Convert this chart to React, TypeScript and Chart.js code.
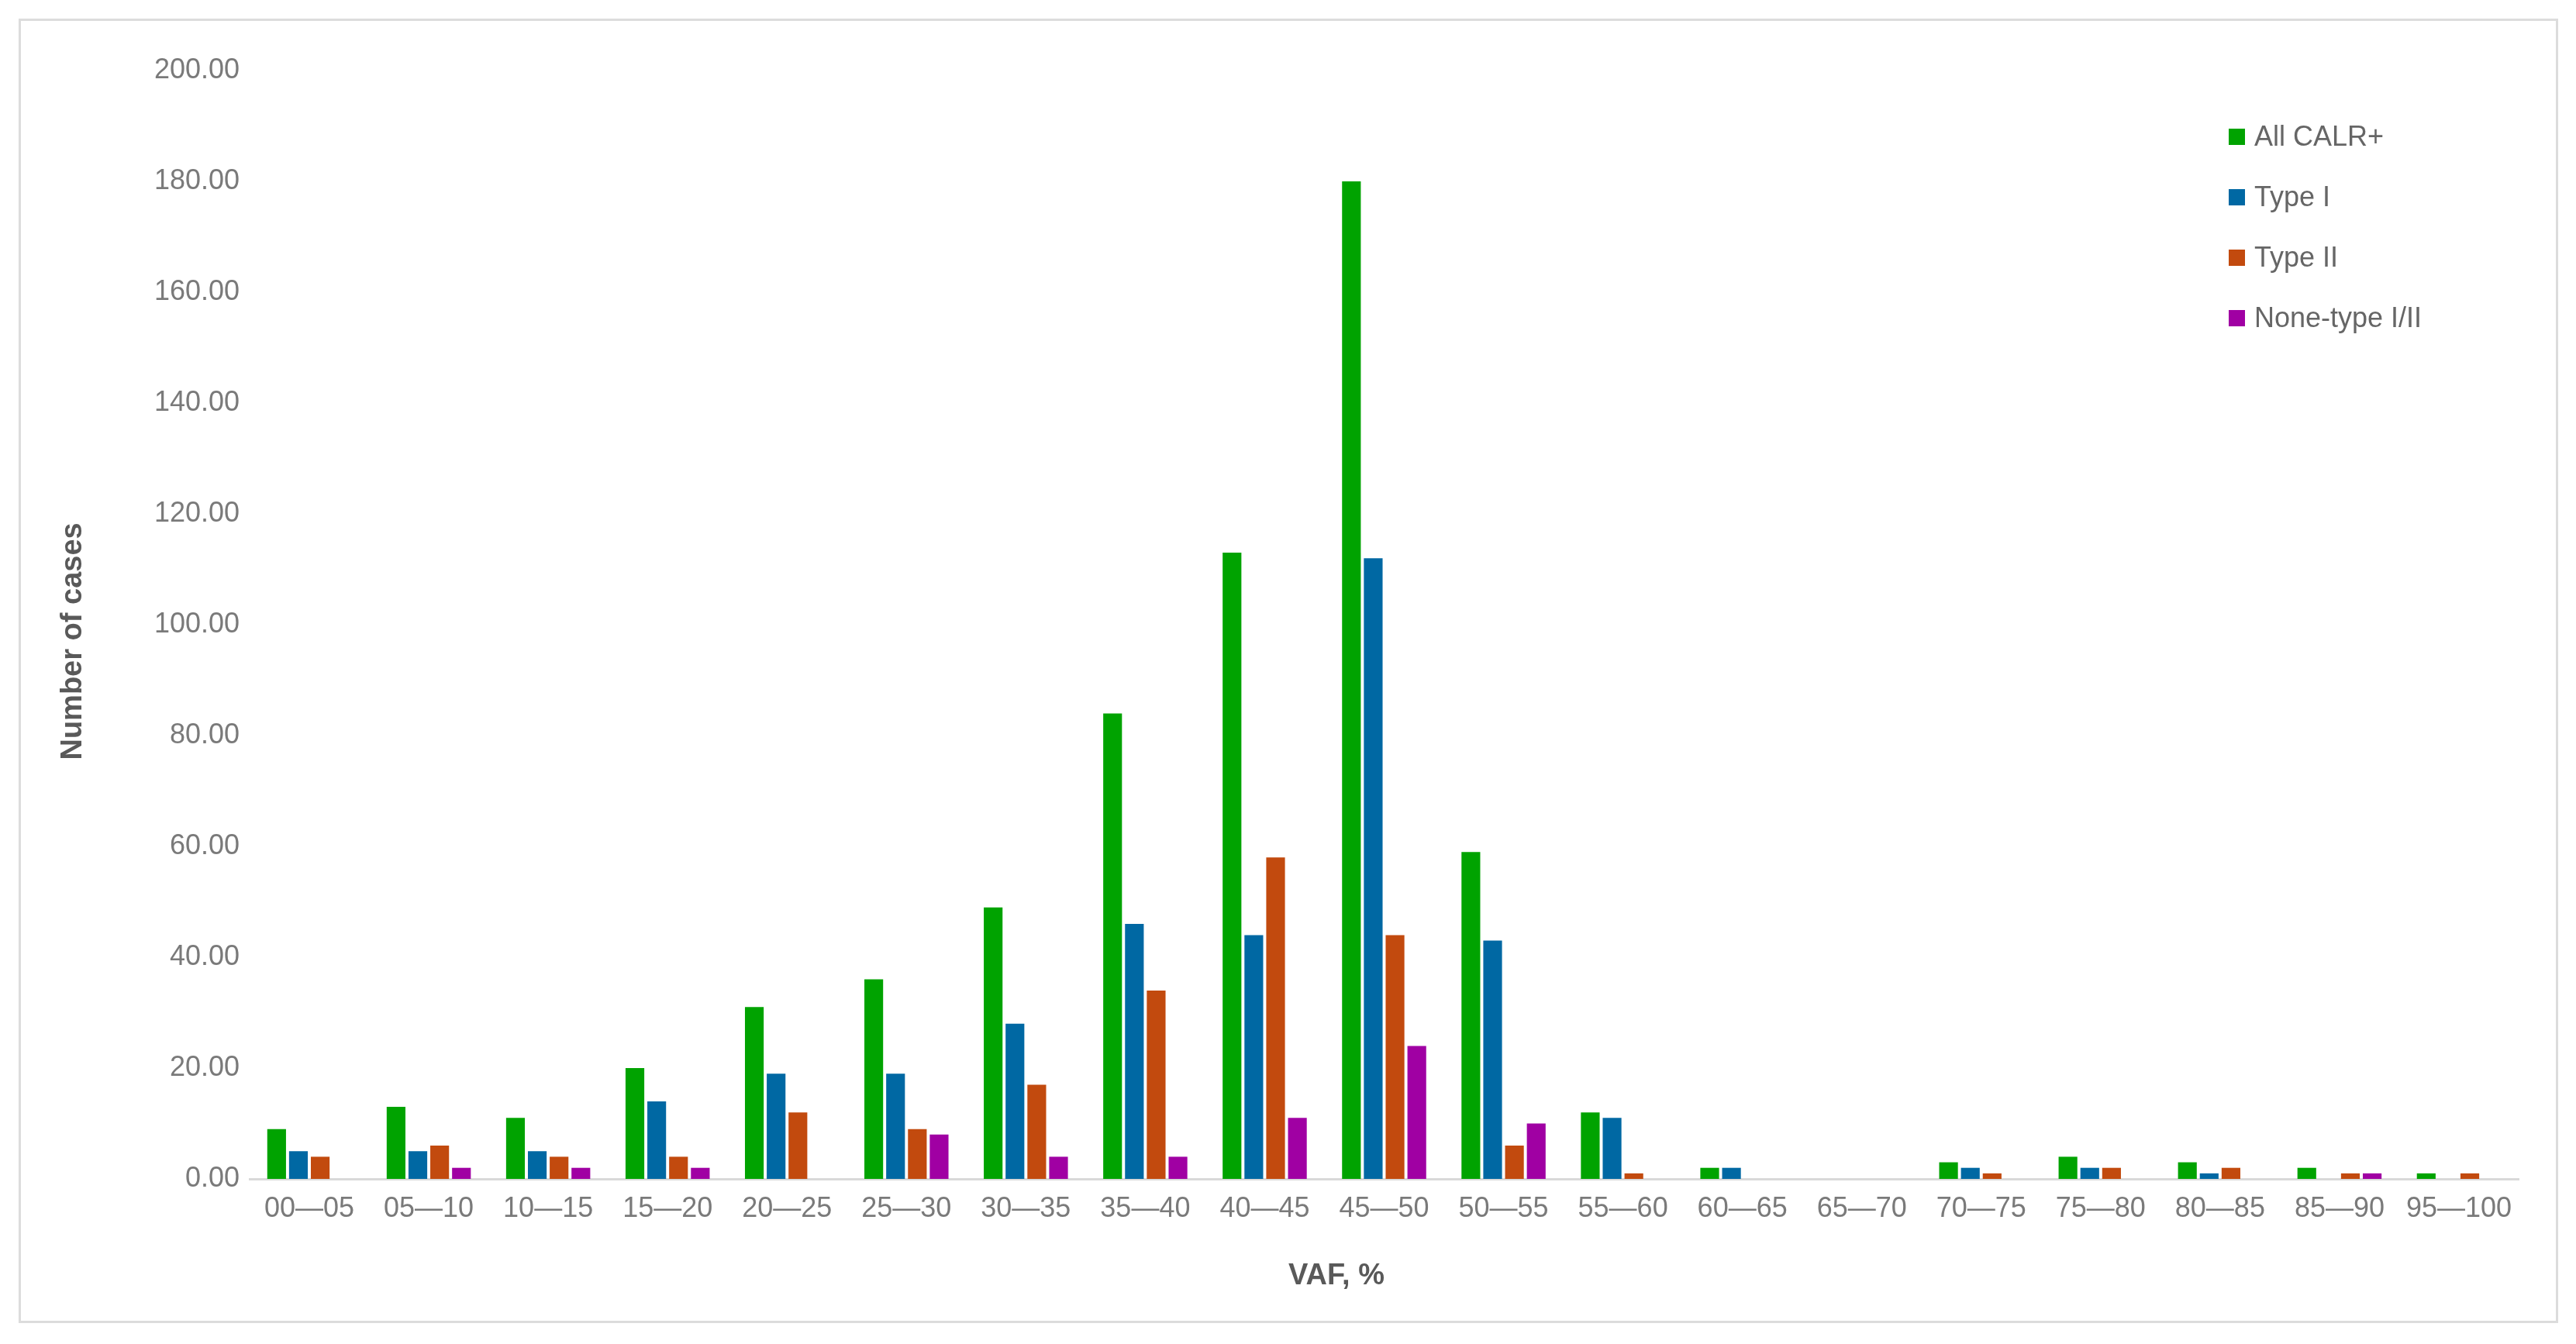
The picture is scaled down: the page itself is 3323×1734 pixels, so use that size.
import React, { useEffect, useRef } from "react";
import { Chart, registerables } from "chart.js";

Chart.register(...registerables);

// VAF bins (90—95 has no bin in the source chart)
const categories = [
  "00—05", "05—10", "10—15", "15—20", "20—25", "25—30", "30—35", "35—40",
  "40—45", "45—50", "50—55", "55—60", "60—65", "65—70", "70—75", "75—80",
  "80—85", "85—90", "95—100",
];

const allCalr = [9, 13, 11, 20, 31, 36, 49, 84, 113, 180, 59, 12, 2, 0, 3, 4, 3, 2, 1];
const typeOne = [5, 5, 5, 14, 19, 19, 28, 46, 44, 112, 43, 11, 2, 0, 2, 2, 1, 0, 0];
const typeTwo = [4, 6, 4, 4, 12, 9, 17, 34, 58, 44, 6, 1, 0, 0, 1, 2, 2, 1, 1];
const noneType = [0, 2, 2, 2, 0, 8, 4, 4, 11, 24, 10, 0, 0, 0, 0, 0, 0, 1, 0];

const seriesNames = ["All CALR+", "Type I", "Type II", "None-type I/II"];
const seriesColors = ["#00a300", "#0068a3", "#c24a0e", "#a000a3"];

const yTicks = [0, 20, 40, 60, 80, 100, 120, 140, 160, 180, 200];

const xTitle = "VAF, %";
const yTitle = "Number of cases";

const W = 3323;
const H = 1734;
const FONT = "'Liberation Sans', Arial, sans-serif";

// axis titles sit a little off the plot centre in the original, so draw them here
const axisTitles = {
  id: "axisTitles",
  afterDraw(chart: any) {
    const { ctx, chartArea } = chart;
    ctx.save();
    ctx.fillStyle = "#595959";
    ctx.font = `bold 38px ${FONT}`;
    ctx.textAlign = "center";
    ctx.textBaseline = "middle";
    ctx.fillText(xTitle, chartArea.left + (chartArea.right - chartArea.left) * 0.479, chartArea.bottom + 126);
    ctx.translate(95, chartArea.top + (chartArea.bottom - chartArea.top) * 0.515);
    ctx.rotate(-Math.PI / 2);
    ctx.fillText(yTitle, 0, 0);
    ctx.restore();
  },
};

const App: React.FC = () => {
  const canvasRef = useRef<HTMLCanvasElement>(null);
  const chartRef = useRef<Chart | null>(null);

  useEffect(() => {
    document.body.style.margin = "0";
    if (!canvasRef.current) return;
    if (chartRef.current) chartRef.current.destroy();

    const seriesData = [allCalr, typeOne, typeTwo, noneType];

    chartRef.current = new Chart(canvasRef.current, {
      type: "bar",
      data: {
        labels: categories,
        datasets: seriesData.map((d, i) => ({
          label: seriesNames[i],
          data: d,
          backgroundColor: seriesColors[i],
          borderWidth: 0,
          categoryPercentage: 0.73,
          barPercentage: 0.86,
        })),
      },
      options: {
        responsive: false,
        animation: false,
        devicePixelRatio: 1,
        layout: {
          padding: { left: 60, top: 91, right: 74, bottom: 64 },
        },
        plugins: {
          legend: { display: false },
          tooltip: { enabled: false },
        },
        scales: {
          x: {
            grid: { display: false },
            border: { display: true, color: "#d9d9d9", width: 3 },
            ticks: {
              color: "#7a7a7a",
              font: { family: FONT, size: 36 },
              padding: 9,
              autoSkip: false,
              maxRotation: 0,
              minRotation: 0,
            },
            afterFit: (axis: any) => {
              axis.height = 149;
            },
          },
          y: {
            min: 0,
            max: 200,
            grid: { display: false },
            border: { display: false },
            ticks: {
              color: "#7a7a7a",
              font: { family: FONT, size: 36 },
              padding: 5,
              stepSize: 20,
              callback: (value: any) => Number(value).toFixed(2),
            },
            afterBuildTicks: (axis: any) => {
              axis.ticks = yTicks.map((v) => ({ value: v }));
            },
            afterFit: (axis: any) => {
              axis.width = 262;
            },
          },
        },
      },
      plugins: [axisTitles],
    });

    return () => {
      if (chartRef.current) {
        chartRef.current.destroy();
        chartRef.current = null;
      }
    };
  }, []);

  return (
    <div
      style={{
        position: "relative",
        width: W,
        height: H,
        overflow: "hidden",
        background: "#fff",
      }}
    >
      <div
        style={{
          position: "absolute",
          left: 24,
          top: 24,
          width: 3270,
          height: 1677,
          border: "3px solid #dcdcdc",
        }}
      />
      <canvas
        ref={canvasRef}
        width={W}
        height={H}
        style={{ position: "absolute", left: 0, top: 0, width: W, height: H }}
      />
      <div
        style={{
          position: "absolute",
          left: 2875,
          top: 152,
          fontFamily: FONT,
          fontSize: 36,
          color: "#666",
        }}
      >
        {seriesNames.map((name, i) => (
          <div
            key={name}
            style={{
              display: "flex",
              alignItems: "center",
              height: 48,
              marginBottom: 30,
            }}
          >
            <span
              style={{
                display: "inline-block",
                width: 21,
                height: 21,
                background: seriesColors[i],
                marginRight: 12,
              }}
            />
            <span>{name}</span>
          </div>
        ))}
      </div>
    </div>
  );
};

export default App;
